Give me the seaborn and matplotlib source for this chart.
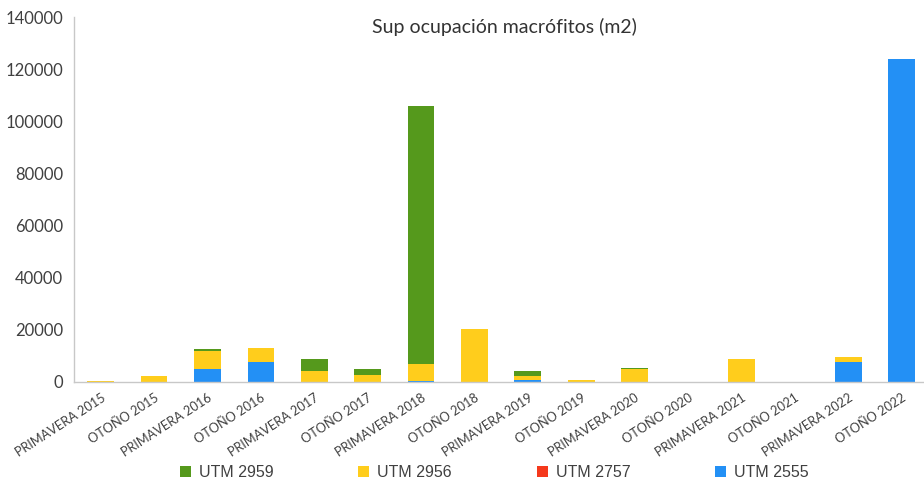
import numpy as np
import pandas as pd
import matplotlib
matplotlib.use("Agg")
import matplotlib.pyplot as plt
import seaborn as sns
from matplotlib.patches import Patch
from matplotlib.ticker import FixedLocator

campaigns = [
    "PRIMAVERA 2015", "OTOÑO 2015", "PRIMAVERA 2016", "OTOÑO 2016",
    "PRIMAVERA 2017", "OTOÑO 2017", "PRIMAVERA 2018", "OTOÑO 2018",
    "PRIMAVERA 2019", "OTOÑO 2019", "PRIMAVERA 2020", "OTOÑO 2020",
    "PRIMAVERA 2021", "OTOÑO 2021", "PRIMAVERA 2022", "OTOÑO 2022",
]
utm_2555 = [0, 0, 4800, 7500, 0, 0, 500, 0, 900, 0, 0, 0, 0, 0, 7700, 124000]
utm_2757 = [0, 0, 0, 0, 0, 0, 0, 0, 0, 0, 0, 0, 0, 0, 0, 0]
utm_2956 = [300, 2400, 7000, 5500, 4100, 2800, 6500, 20300, 1500, 700, 5000, 0, 9000, 0, 1900, 0]
utm_2959 = [0, 0, 1000, 0, 4800, 2300, 99000, 0, 1700, 0, 500, 0, 0, 0, 0, 0]

series = ["UTM 2959", "UTM 2956", "UTM 2757", "UTM 2555"]
colors = {"UTM 2959": "#55991c", "UTM 2956": "#ffcd1c",
          "UTM 2757": "#f5391c", "UTM 2555": "#2390f5"}

df = pd.DataFrame({"campaign": campaigns, "UTM 2555": utm_2555, "UTM 2757": utm_2757,
                   "UTM 2956": utm_2956, "UTM 2959": utm_2959})
# cumulative heights, bottom -> top: 2555, 2757, 2956, 2959
df["c2555"] = df["UTM 2555"]
df["c2757"] = df["c2555"] + df["UTM 2757"]
df["c2956"] = df["c2757"] + df["UTM 2956"]
df["c2959"] = df["c2956"] + df["UTM 2959"]

sns.set_style("white")
plt.rcParams["font.family"] = ["Lato", "DejaVu Sans"]
txt = "#404040"

fig = plt.figure(figsize=(9.24, 4.8), dpi=100)
ax = fig.add_axes([74 / 924, 98 / 480, 1 - 74 / 924, (382 - 17) / 480])

for col, name in [("c2959", "UTM 2959"), ("c2956", "UTM 2956"),
                  ("c2757", "UTM 2757"), ("c2555", "UTM 2555")]:
    sns.barplot(data=df, x="campaign", y=col, color=colors[name], saturation=1,
                width=0.5, order=campaigns, linewidth=0, edgecolor="none", ax=ax)

ax.set_ylim(0, 140000)
ax.set_xlim(-0.5, 15.42)
ax.set_yticks(np.arange(0, 140001, 20000))
ax.set_xlabel("")
ax.set_ylabel("")
for s in ["top", "right"]:
    ax.spines[s].set_visible(False)
for s in ["left", "bottom"]:
    ax.spines[s].set_color("#c8c8c8")
    ax.spines[s].set_linewidth(1)

ax.tick_params(axis="y", length=4, color="#c8c8c8", labelsize=12, labelcolor=txt, pad=4)
ax.tick_params(axis="x", which="major", length=0, labelsize=9.2, labelcolor=txt, pad=7)
ax.xaxis.set_minor_locator(FixedLocator(np.arange(0.5, 15.5, 1)))
ax.tick_params(axis="x", which="minor", length=4, color="#c8c8c8")
plt.setp(ax.get_xticklabels(), rotation=33, ha="right", rotation_mode="anchor")

ax.text(0.506, 1 - (27 - 17) / 365, "Sup ocupación macrófitos (m2)", transform=ax.transAxes,
        ha="center", va="center", fontsize=14, color="#333333")

handles = [Patch(facecolor=colors[n], edgecolor="none", label=n) for n in series]
fig.legend(handles=handles, loc="center", bbox_to_anchor=(0.535, 0.016), ncol=4,
           frameon=False, handlelength=0.7, handleheight=0.7, handletextpad=0.5,
           columnspacing=5.3, prop={"family": "Liberation Sans", "size": 11.5},
           labelcolor=txt)

fig.savefig("out.png", dpi=100)
